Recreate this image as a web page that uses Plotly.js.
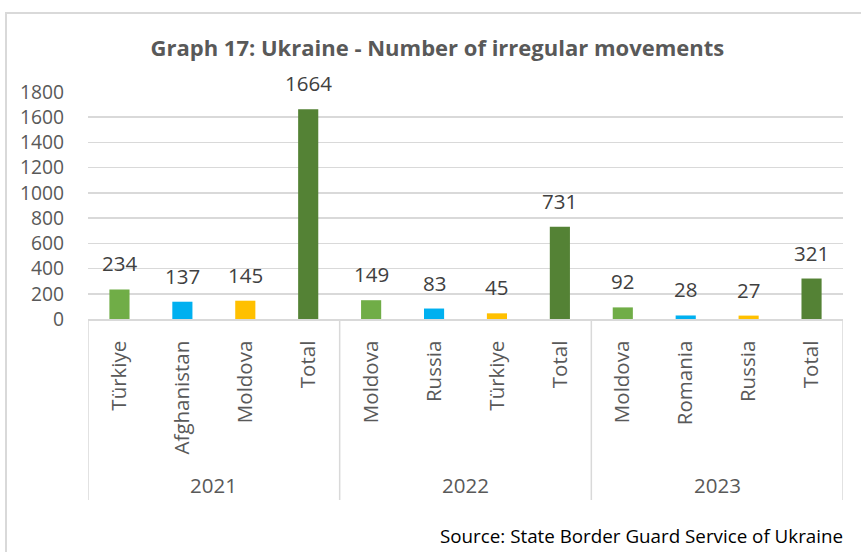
<!DOCTYPE html>
<html>
<head>
<meta charset="utf-8">
<script src="https://cdn.plot.ly/plotly-3.0.1.min.js"></script>
<style>
  html, body { margin: 0; padding: 0; background: #fff; }
  #wrap { position: relative; width: 861px; height: 552px; overflow: hidden; }
  #chart { position: absolute; left: 0; top: 0; width: 861px; height: 552px; }
  #frame { position: absolute; left: 5px; top: 12px; width: 900px; height: 600px;
           border: 2px solid #d9d9d9; pointer-events: none; z-index: 5; }
</style>
</head>
<body>
<div id="wrap">
  <div id="chart"></div>
  <div id="frame"></div>
</div>
<script>
// ---- data ----
const years = ['2021', '2022', '2023'];
const countries2021 = ['Türkiye', 'Afghanistan', 'Moldova', 'Total'];
const countries2022 = ['Moldova', 'Russia', 'Türkiye', 'Total'];
const countries2023 = ['Moldova', 'Romania', 'Russia', 'Total'];
const values2021 = [234, 137, 145, 1664];
const values2022 = [149, 83, 45, 731];
const values2023 = [92, 28, 27, 321];
const yTicks = [0, 200, 400, 600, 800, 1000, 1200, 1400, 1600, 1800];

// ---- styles ----
const positionColors = ['#70AD47', '#00B0F0', '#FFC000', '#548235'];
const FONT = '"Open Sans", Lato, sans-serif';

const groups = [countries2021, countries2022, countries2023];
const groupValues = [values2021, values2022, values2023];

const xs = [], ys = [], labels = [], colors = [];
groups.forEach((g, gi) => {
  g.forEach((c, ci) => {
    xs.push(xs.length);
    ys.push(groupValues[gi][ci]);
    labels.push(c);
    colors.push(positionColors[ci]);
  });
});

const trace = {
  type: 'bar',
  x: xs,
  y: ys,
  width: 0.32,
  marker: { color: colors },
  hoverinfo: 'skip'
};

const annotations = xs.map((x, i) => ({
  x: x, y: ys[i], xref: 'x', yref: 'y',
  text: String(ys[i]), showarrow: false,
  yanchor: 'middle', yshift: 26,
  font: { family: FONT, size: 20.5, color: '#404040' }
}));

// group labels and dividers
const plotTopPx = 92, plotBottomPx = 319;
const plotH = plotBottomPx - plotTopPx;
const shapes = [];
let start = 0;
groups.forEach((g, gi) => {
  const mid = start + (g.length - 1) / 2;
  annotations.push({
    x: mid, xref: 'x', y: -(485 - plotBottomPx) / plotH, yref: 'paper',
    text: years[gi], showarrow: false, yanchor: 'middle',
    font: { family: FONT, size: 20.5, color: '#595959' }
  });
  shapes.push({
    type: 'line', xref: 'x', yref: 'paper',
    x0: start - 0.5, x1: start - 0.5, y0: 0, y1: -(500 - plotBottomPx) / plotH,
    line: { color: '#d9d9d9', width: 1.5 }
  });
  start += g.length;
});
shapes.push({
  type: 'line', xref: 'x', yref: 'paper',
  x0: start - 0.5, x1: start - 0.5, y0: 0, y1: -(500 - plotBottomPx) / plotH,
  line: { color: '#d9d9d9', width: 1.5 }
});

annotations.push({
  xref: 'paper', yref: 'paper', x: 1, xanchor: 'right', xshift: 2,
  y: -(536 - plotBottomPx) / plotH, yanchor: 'middle',
  text: 'Source: State Border Guard Service of Ukraine', showarrow: false,
  font: { family: FONT, size: 18.8, color: '#000000' }
});

const layout = {
  width: 861, height: 552,
  margin: { l: 88, r: 18, t: plotTopPx, b: 552 - plotBottomPx, pad: 0 },
  paper_bgcolor: '#ffffff', plot_bgcolor: '#ffffff',
  showlegend: false,
  title: {
    text: '<b>Graph 17: Ukraine - Number of irregular movements</b>',
    font: { family: FONT, size: 22, color: '#595959' },
    xref: 'container', x: 0.508, xanchor: 'center',
    yref: 'container', y: 1 - 48 / 552, yanchor: 'middle'
  },
  xaxis: {
    range: [-0.5, xs.length - 0.5],
    tickmode: 'array', tickvals: xs, ticktext: labels,
    tickangle: -90, ticks: '', ticklabelstandoff: 12,
    tickfont: { family: FONT, size: 20.5, color: '#595959' },
    showgrid: false, zeroline: false,
    showline: true, linecolor: '#d9d9d9', linewidth: 1.5,
    fixedrange: true
  },
  yaxis: {
    range: [0, 1800],
    tickmode: 'array', tickvals: yTicks,
    ticks: '', ticklabelstandoff: 23,
    tickfont: { family: FONT, size: 19.3, color: '#595959' },
    showgrid: true, gridcolor: '#d9d9d9', gridwidth: 1.5,
    zeroline: false, showline: false, fixedrange: true
  },
  annotations: annotations,
  shapes: shapes
};

Plotly.newPlot('chart', [trace], layout, { displayModeBar: false, staticPlot: true });
</script>
</body>
</html>
